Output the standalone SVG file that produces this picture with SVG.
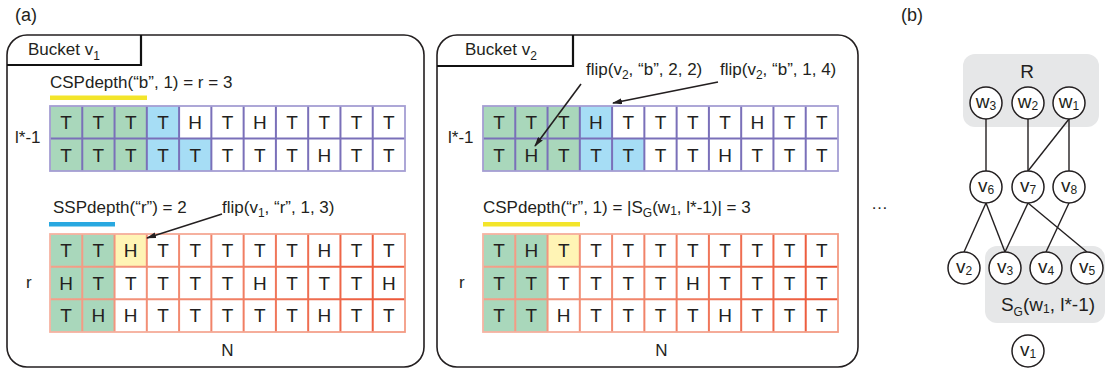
<svg xmlns="http://www.w3.org/2000/svg" width="1116" height="372" viewBox="0 0 1116 372">
  <defs>
    <style>
      text{font-family:"Liberation Sans",Arial,sans-serif;fill:#231f20}
      .lbl{font-size:17px}
      .big{font-size:18px}
      .cellt{font-size:19px;text-anchor:middle}
      .box{fill:none;stroke:#231f20;stroke-width:1.6}
      .tab{fill:none;stroke:#111;stroke-width:2.2}
      .g{fill:#a9d7bb}
      .b{fill:#a6ddf5}
      .y{fill:#fff4b5}
      .pu-out{fill:none;stroke:#a59ed3;stroke-width:1.8}
      .pu-in{fill:none;stroke:#7a70b9;stroke-width:2}
      .or-out{fill:none;stroke:url(#orOut);stroke-width:1.8}
      .or-in{fill:none;stroke:url(#orIn);stroke-width:2}
      .arrow{fill:none;stroke:#231f20;stroke-width:1.6;marker-end:url(#head)}
      .edge{fill:none;stroke:#231f20;stroke-width:1.4}
      .node circle{fill:#fff;stroke:#231f20;stroke-width:1.5}
      .node text{font-size:19px;text-anchor:middle}
      .area{fill:#e6e7e8}
    </style>
    <linearGradient id="orOut" x1="0" y1="0" x2="1" y2="0">
      <stop offset="0" stop-color="#f6b3a2"/>
      <stop offset="1" stop-color="#f39a83"/>
    </linearGradient>
    <linearGradient id="orIn" x1="0" y1="0" x2="1" y2="0">
      <stop offset="0" stop-color="#f4a18b"/>
      <stop offset="0.6" stop-color="#f07a5e"/>
      <stop offset="1" stop-color="#ec5536"/>
    </linearGradient>
    <marker id="head" viewBox="0 0 10 6" refX="9" refY="3" markerWidth="10" markerHeight="6" markerUnits="userSpaceOnUse" orient="auto">
      <path d="M0,0 L10,3 L0,6 z" fill="#231f20"/>
    </marker>
  </defs>

  <!-- panel labels -->
  <text class="big" x="15" y="21">(a)</text>
  <text class="big" x="901" y="21">(b)</text>

  <!-- ===== Bucket v1 ===== -->
  <g id="bucket-v1">
    <rect class="box" x="7" y="35" width="417" height="332" rx="20"/>
    <path class="tab" d="M7,65 H141 V35"/>
    <text class="lbl" x="28" y="55">Bucket v<tspan font-size="12" dy="5">1</tspan></text>

    <text class="lbl" x="50" y="88">CSPdepth(“b”, 1) = r = 3</text>
    <rect x="50" y="95.5" width="97" height="4.5" fill="#f3e52a"/>
    <text class="lbl" x="15" y="143">l*-1</text>

    <!-- l*-1 grid -->
    <g id="grid-v1-b" transform="translate(50,106)">
      <rect x="0" y="0" width="355" height="65" fill="#fff"/>
      <rect class="g" x="0" y="0" width="96.82" height="65"/>
      <rect class="b" x="96.82" y="0" width="32.27" height="65"/>
      <rect class="b" x="129.09" y="32.5" width="32.27" height="32.5"/>
      <path class="pu-in" d="M32.27,0V65M64.55,0V65M96.82,0V65M129.09,0V65M161.36,0V65M193.64,0V65M225.91,0V65M258.18,0V65M290.45,0V65M322.73,0V65M0,32.5H355"/>
      <rect class="pu-out" x="0" y="0" width="355" height="65"/>
      <text class="cellt" x="16.14 48.41 80.68 112.95 145.23 177.5 209.77 242.05 274.32 306.59 338.86" y="23">TTTTHTHTTTT</text>
      <text class="cellt" x="16.14 48.41 80.68 112.95 145.23 177.5 209.77 242.05 274.32 306.59 338.86" y="55.5">TTTTTTTTHTT</text>
    </g>

    <text class="lbl" x="53" y="213">SSPdepth(“r”) = 2</text>
    <rect x="49" y="222" width="66" height="4.5" fill="#29a8e0"/>
    <text class="lbl" x="222" y="213">flip(v<tspan font-size="12" dy="4">1</tspan><tspan dy="-4">, “r”, 1, 3)</tspan></text>
    <text class="lbl" x="26" y="288">r</text>

    <!-- r grid -->
    <g id="grid-v1-r" transform="translate(50,234)">
      <rect x="0" y="0" width="355" height="98" fill="#fff"/>
      <rect class="g" x="0" y="0" width="64.55" height="98"/>
      <rect class="y" x="64.55" y="0" width="32.27" height="32.67"/>
      <path class="or-in" d="M32.27,0V98M64.55,0V98M96.82,0V98M129.09,0V98M161.36,0V98M193.64,0V98M225.91,0V98M258.18,0V98M290.45,0V98M322.73,0V98M0,32.67H355M0,65.33H355"/>
      <rect class="or-out" x="0" y="0" width="355" height="98"/>
      <text class="cellt" x="16.14 48.41 80.68 112.95 145.23 177.5 209.77 242.05 274.32 306.59 338.86" y="23">TTHTTTTTHTT</text>
      <text class="cellt" x="16.14 48.41 80.68 112.95 145.23 177.5 209.77 242.05 274.32 306.59 338.86" y="55.7">HTTTTTHTTTH</text>
      <text class="cellt" x="16.14 48.41 80.68 112.95 145.23 177.5 209.77 242.05 274.32 306.59 338.86" y="88.3">THHTTTTTHTT</text>
    </g>
    <text class="lbl" x="227.5" y="355.5" text-anchor="middle">N</text>
  </g>

  <!-- ===== Bucket v2 ===== -->
  <g id="bucket-v2">
    <rect class="box" x="437" y="35" width="421" height="332" rx="20"/>
    <path class="tab" d="M437,66 H573 V35"/>
    <text class="lbl" x="465" y="55">Bucket v<tspan font-size="12" dy="5">2</tspan></text>

    <text class="lbl" x="586" y="75">flip(v<tspan font-size="12" dy="4">2</tspan><tspan dy="-4">, “b”, 2, 2)</tspan></text>
    <text class="lbl" x="720" y="75">flip(v<tspan font-size="12" dy="4">2</tspan><tspan dy="-4">, “b”, 1, 4)</tspan></text>
    <text class="lbl" x="448" y="143">l*-1</text>

    <!-- l*-1 grid -->
    <g id="grid-v2-b" transform="translate(483,106)">
      <rect x="0" y="0" width="355" height="65" fill="#fff"/>
      <rect class="g" x="0" y="0" width="96.82" height="65"/>
      <rect class="b" x="96.82" y="0" width="32.27" height="65"/>
      <rect class="b" x="129.09" y="32.5" width="32.27" height="32.5"/>
      <path class="pu-in" d="M32.27,0V65M64.55,0V65M96.82,0V65M129.09,0V65M161.36,0V65M193.64,0V65M225.91,0V65M258.18,0V65M290.45,0V65M322.73,0V65M0,32.5H355"/>
      <rect class="pu-out" x="0" y="0" width="355" height="65"/>
      <text class="cellt" x="16.14 48.41 80.68 112.95 145.23 177.5 209.77 242.05 274.32 306.59 338.86" y="23">TTTHTTTTHTT</text>
      <text class="cellt" x="16.14 48.41 80.68 112.95 145.23 177.5 209.77 242.05 274.32 306.59 338.86" y="55.5">THTTTTTHTTT</text>
    </g>

    <text class="lbl" x="483" y="213">CSPdepth(“r”, 1) = |S<tspan font-size="12" dy="4">G</tspan><tspan dy="-4">(w</tspan><tspan font-size="12" dy="2">1</tspan><tspan dy="-2">, l*-1)| = 3</tspan></text>
    <rect x="483" y="222" width="97" height="4.5" fill="#f3e52a"/>
    <text class="lbl" x="459" y="288">r</text>

    <!-- r grid -->
    <g id="grid-v2-r" transform="translate(483,234)">
      <rect x="0" y="0" width="355" height="98" fill="#fff"/>
      <rect class="g" x="0" y="0" width="64.55" height="98"/>
      <rect class="y" x="64.55" y="0" width="32.27" height="32.67"/>
      <path class="or-in" d="M32.27,0V98M64.55,0V98M96.82,0V98M129.09,0V98M161.36,0V98M193.64,0V98M225.91,0V98M258.18,0V98M290.45,0V98M322.73,0V98M0,32.67H355M0,65.33H355"/>
      <rect class="or-out" x="0" y="0" width="355" height="98"/>
      <text class="cellt" x="16.14 48.41 80.68 112.95 145.23 177.5 209.77 242.05 274.32 306.59 338.86" y="23">THTTTTTTTTT</text>
      <text class="cellt" x="16.14 48.41 80.68 112.95 145.23 177.5 209.77 242.05 274.32 306.59 338.86" y="55.7">TTTTTTHTTTT</text>
      <text class="cellt" x="16.14 48.41 80.68 112.95 145.23 177.5 209.77 242.05 274.32 306.59 338.86" y="88.3">TTHTTTTHTTT</text>
    </g>
    <text class="lbl" x="661.5" y="355.5" text-anchor="middle">N</text>
  </g>

  <text class="lbl" x="871" y="209">…</text>

  <!-- flip pointers -->
  <g id="pointers">
    <line class="arrow" x1="222" y1="214" x2="147" y2="238"/>
    <line class="arrow" x1="581" y1="84" x2="535" y2="146"/>
    <line class="arrow" x1="718" y1="82" x2="613" y2="103"/>
  </g>

  <!-- ===== (b) graph ===== -->
  <g id="region-R">
    <rect class="area" x="963" y="54" width="136" height="73" rx="12"/>
    <text x="1027" y="78" font-size="19" text-anchor="middle">R</text>
  </g>
  <g id="region-S">
    <rect class="area" x="985" y="246" width="120" height="77" rx="12"/>
    <text x="1048" y="311" font-size="19" text-anchor="middle">S<tspan font-size="12" dy="5">G</tspan><tspan dy="-5">(w</tspan><tspan font-size="12" dy="2">1</tspan><tspan dy="-2">, l*-1)</tspan></text>
  </g>

  <g id="edges">
    <line class="edge" x1="986" y1="119" x2="986" y2="171"/>
    <line class="edge" x1="1028" y1="119" x2="1028" y2="171"/>
    <line class="edge" x1="1069" y1="119" x2="1069" y2="171"/>
    <line class="edge" x1="1069" y1="119" x2="1028" y2="171"/>
    <line class="edge" x1="986" y1="203" x2="964" y2="252"/>
    <line class="edge" x1="986" y1="203" x2="1005" y2="252"/>
    <line class="edge" x1="1028" y1="203" x2="1005" y2="252"/>
    <line class="edge" x1="1028" y1="203" x2="1087" y2="252"/>
    <line class="edge" x1="1069" y1="203" x2="1046" y2="252"/>
  </g>

  <g id="w3" class="node"><circle cx="986" cy="103" r="16"/><text x="986" y="108">w<tspan font-size="12" dy="2">3</tspan></text></g>
  <g id="w2" class="node"><circle cx="1028" cy="103" r="16"/><text x="1028" y="108">w<tspan font-size="12" dy="2">2</tspan></text></g>
  <g id="w1" class="node"><circle cx="1069" cy="103" r="16"/><text x="1069" y="108">w<tspan font-size="12" dy="2">1</tspan></text></g>
  <g id="v6" class="node"><circle cx="986" cy="187" r="16"/><text x="986" y="192">v<tspan font-size="12" dy="2">6</tspan></text></g>
  <g id="v7" class="node"><circle cx="1028" cy="187" r="16"/><text x="1028" y="192">v<tspan font-size="12" dy="2">7</tspan></text></g>
  <g id="v8" class="node"><circle cx="1069" cy="187" r="16"/><text x="1069" y="192">v<tspan font-size="12" dy="2">8</tspan></text></g>
  <g id="v2" class="node"><circle cx="964" cy="268" r="16"/><text x="964" y="273">v<tspan font-size="12" dy="2">2</tspan></text></g>
  <g id="v3" class="node"><circle cx="1005" cy="268" r="16"/><text x="1005" y="273">v<tspan font-size="12" dy="2">3</tspan></text></g>
  <g id="v4" class="node"><circle cx="1046" cy="268" r="16"/><text x="1046" y="273">v<tspan font-size="12" dy="2">4</tspan></text></g>
  <g id="v5" class="node"><circle cx="1087" cy="268" r="16"/><text x="1087" y="273">v<tspan font-size="12" dy="2">5</tspan></text></g>
  <g id="v1" class="node"><circle cx="1028" cy="351" r="16"/><text x="1028" y="356">v<tspan font-size="12" dy="2">1</tspan></text></g>
</svg>
